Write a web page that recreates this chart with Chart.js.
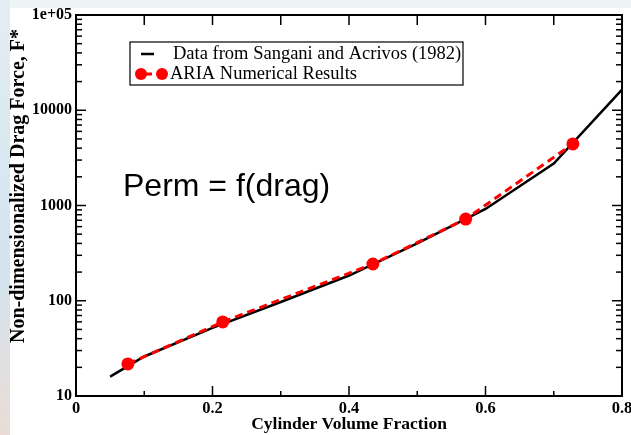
<!DOCTYPE html>
<html>
<head>
<meta charset="utf-8">
<script src="https://cdn.jsdelivr.net/npm/chart.js@4.4.0/dist/chart.umd.min.js"></script>
<style>
  html, body { margin: 0; padding: 0; background: #fff; }
  #wrap { width: 631px; height: 435px; position: relative; }
</style>
</head>
<body>
<div id="wrap"><canvas id="dragChart"></canvas></div>
<script>
// curva di riferimento (Sangani & Acrivos 1982)
const refFraction = [0.05, 0.1, 0.2, 0.3, 0.4, 0.5, 0.6, 0.7, 0.8];
const refDrag = [16, 26, 52, 97, 184, 400, 920, 2750, 16500];

// risultati numerici ARIA
const ariaFraction = [0.076, 0.215, 0.435, 0.571, 0.728];
const ariaDrag = [21.7, 60, 243, 721, 4430];

// tick
const xTicks = [0, 0.2, 0.4, 0.6, 0.8];
const xTickLabels = ['0', '0.2', '0.4', '0.6', '0.8'];
const yTicks = [10, 100, 1000, 10000, 100000];
const yTickLabels = ['10', '100', '1000', '10000', '1e+05'];

const legendLabels = ['Data from Sangani and Acrivos (1982)', 'ARIA Numerical Results'];
const yTitle = 'Non-dimensionalized Drag Force, F*';
const xTitle = 'Cylinder Volume Fraction';
const noteText = 'Perm = f(drag)';

const serif = '"Liberation Serif", "Times New Roman", serif';

// sfondo: striscia azzurra a sinistra e in alto, poi riquadro bianco
const backdrop = {
    id: 'backdrop',
    beforeDraw(chart) {
        const ctx = chart.ctx;
        const w = chart.width, h = chart.height;
        ctx.save();
        const g = ctx.createLinearGradient(0, 0, 0, h);
        g.addColorStop(0, '#e4edf2');
        g.addColorStop(0.6, '#d3e4ef');
        g.addColorStop(1, '#e9dcd6');
        ctx.fillStyle = g;
        ctx.fillRect(0, 0, w, h);
        ctx.fillStyle = '#eef3f5';
        ctx.fillRect(10, 0, w - 10, 8);
        ctx.fillStyle = '#ffffff';
        ctx.fillRect(10, 8, w - 10, h - 8);
        ctx.restore();
    }
};

// cornice con tick rivolti verso l'interno, su tutti e quattro i lati
const frameTicks = {
    id: 'frameTicks',
    afterDatasetsDraw(chart) {
        const { ctx, chartArea: a, scales: { x, y } } = chart;
        ctx.save();
        ctx.strokeStyle = '#000';
        ctx.lineWidth = 1.5;
        const seg = (x1, y1, x2, y2) => {
            ctx.beginPath(); ctx.moveTo(x1, y1); ctx.lineTo(x2, y2); ctx.stroke();
        };
        for (let i = 0; i <= 8; i++) {
            const px = x.getPixelForValue(i / 10);
            seg(px, a.bottom, px, a.bottom - (i % 2 === 0 ? 10 : 5));
            seg(px, a.top, px, a.top + 10);
        }
        for (let d = 10; d <= 100000; d *= 10) {
            for (let m = 1; m < 10; m++) {
                const v = d * m;
                if (v > 100000) break;
                const py = y.getPixelForValue(v);
                const len = m === 1 ? 10 : 6;
                seg(a.left, py, a.left + len, py);
                seg(a.right, py, a.right - len, py);
            }
        }
        ctx.lineWidth = 2;
        ctx.strokeRect(a.left, a.top, a.right - a.left, a.bottom - a.top);
        ctx.restore();
    }
};

// legenda, titolo dell'asse y e nota "Perm = f(drag)"
const annotations = {
    id: 'annotations',
    afterDraw(chart) {
        const ctx = chart.ctx;
        const ds = chart.data.datasets;
        ctx.save();

        // riquadro legenda
        ctx.fillStyle = '#fff';
        ctx.fillRect(130, 42, 333, 43);
        ctx.strokeStyle = '#000';
        ctx.lineWidth = 1.2;
        ctx.strokeRect(130, 42, 333, 43);

        // voce 1: linea nera
        ctx.strokeStyle = ds[0].borderColor;
        ctx.lineWidth = ds[0].borderWidth;
        ctx.beginPath(); ctx.moveTo(141, 54); ctx.lineTo(154, 54); ctx.stroke();

        // voce 2: pallini rossi con tratto
        ctx.strokeStyle = ds[1].borderColor;
        ctx.fillStyle = ds[1].pointBackgroundColor;
        ctx.lineWidth = ds[1].borderWidth;
        ctx.beginPath(); ctx.moveTo(141, 74); ctx.lineTo(152, 74); ctx.stroke();
        [141, 162].forEach(cx => {
            ctx.beginPath(); ctx.arc(cx, 74, 6, 0, Math.PI * 2); ctx.fill();
        });

        ctx.fillStyle = '#000';
        ctx.font = '18.5px ' + serif;
        ctx.textBaseline = 'middle';
        ctx.textAlign = 'left';
        ctx.fillText(legendLabels[0], 173, 54);
        ctx.fillText(legendLabels[1], 170, 74);

        // nota
        ctx.font = '32px "Liberation Sans", Arial, sans-serif';
        ctx.textBaseline = 'alphabetic';
        ctx.fillText(noteText, 123, 196);

        // titolo asse y
        ctx.translate(19, 186);
        ctx.rotate(-Math.PI / 2);
        ctx.textAlign = 'center';
        ctx.textBaseline = 'middle';
        ctx.font = 'bold 20px ' + serif;
        ctx.fillText(yTitle, 0, 0);
        ctx.restore();
    }
};

const ctx = document.getElementById('dragChart').getContext('2d');

new Chart(ctx, {
    type: 'line',
    data: {
        datasets: [
            {
                label: legendLabels[0],
                data: refFraction.map((v, i) => ({ x: v, y: refDrag[i] })),
                borderColor: '#000000',
                borderWidth: 2.5,
                pointRadius: 0,
                fill: false,
                order: 2
            },
            {
                label: legendLabels[1],
                data: ariaFraction.map((v, i) => ({ x: v, y: ariaDrag[i] })),
                borderColor: '#ff0000',
                borderWidth: 3,
                borderDash: [8, 5],
                pointRadius: 6.5,
                pointBackgroundColor: '#ff0000',
                pointBorderWidth: 0,
                fill: false,
                order: 1
            }
        ]
    },
    options: {
        responsive: true,
        maintainAspectRatio: false,
        animation: false,
        layout: { padding: { top: 15, right: 9, bottom: 0, left: 0 } },
        plugins: {
            legend: { display: false },
            tooltip: { enabled: false }
        },
        scales: {
            x: {
                type: 'linear',
                min: 0,
                max: 0.8,
                grid: { display: false, drawTicks: false },
                border: { display: false },
                afterBuildTicks: s => { s.ticks = xTicks.map(v => ({ value: v })); },
                afterFit: s => { s.height = 39; s.paddingLeft = 0; s.paddingRight = 0; },
                ticks: {
                    padding: 3,
                    color: '#000',
                    font: { family: serif, size: 16.5, weight: 'bold' },
                    callback: (v) => xTickLabels[xTicks.indexOf(v)] ?? ''
                },
                title: {
                    display: true,
                    text: xTitle,
                    color: '#000',
                    padding: { top: 0, bottom: 0 },
                    font: { family: serif, size: 17.5, weight: 'bold' }
                }
            },
            y: {
                type: 'logarithmic',
                min: 10,
                max: 100000,
                grid: { display: false, drawTicks: false },
                border: { display: false },
                afterBuildTicks: s => { s.ticks = yTicks.map(v => ({ value: v })); },
                afterFit: s => { s.width = 76; },
                ticks: {
                    padding: 4,
                    color: '#000',
                    font: { family: serif, size: 16, weight: 'bold' },
                    callback: (v) => yTickLabels[yTicks.indexOf(v)] ?? ''
                }
            }
        }
    },
    plugins: [backdrop, frameTicks, annotations]
});
</script>
</body>
</html>
